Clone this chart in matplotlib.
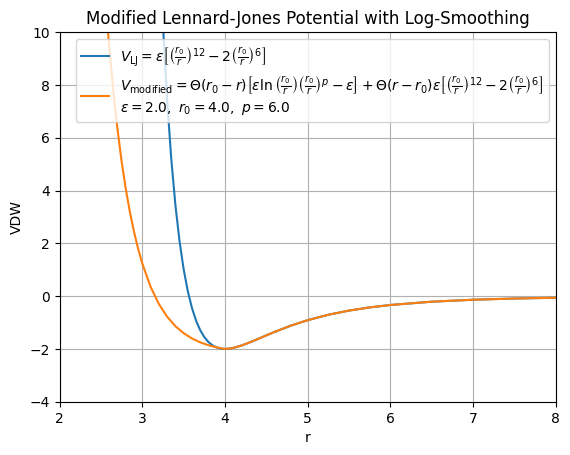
import matplotlib
matplotlib.use("Agg")
import matplotlib.pyplot as plt

# parameters shown in the legend
eps = 2.0
r0 = 4.0
p = 6.0

# standard Lennard-Jones curve
r_lj = [3.2, 3.25, 3.3, 3.35, 3.4, 3.45, 3.5, 3.55, 3.6, 3.65, 3.7, 3.75, 3.8, 3.85, 3.9, 3.95,
        4.0, 4.05, 4.1, 4.2, 4.3, 4.4, 4.5, 4.6, 4.8, 5.0, 5.25, 5.5, 5.75, 6.0, 6.5, 7.0, 7.5, 8.0]
v_lj = [13.85, 10.26, 7.43, 5.204, 3.455, 2.085, 1.017, 0.190, -0.445, -0.928, -1.289, -1.553, -1.740, -1.867, -1.946, -1.988,
        -2.0, -1.990, -1.962, -1.871, -1.752, -1.621, -1.486, -1.356, -1.115, -0.911, -0.706, -0.548, -0.428, -0.336, -0.211, -0.137, -0.091, -0.062]

# log-smoothed curve, inside r0
r_mod_in = [2.5, 2.55, 2.6, 2.65, 2.7, 2.75, 2.8, 2.85, 2.9, 2.95, 3.0, 3.1, 3.2, 3.3, 3.4, 3.5, 3.6, 3.7, 3.8, 3.9, 3.95]
v_mod_in = [13.77, 11.41, 9.423, 7.740, 6.311, 5.097, 4.063, 3.182, 2.429, 1.784, 1.233, 0.353, -0.298, -0.780, -1.138, -1.405, -1.603, -1.751, -1.860, -1.941, -1.973]

# outside r0 it follows the LJ curve
r_mod = r_mod_in + [r for r in r_lj if r >= r0]
v_mod = v_mod_in + [v for r, v in zip(r_lj, v_lj) if r >= r0]

lj_label = r"$V_{\mathrm{LJ}} = \epsilon\left[\left(\frac{r_0}{r}\right)^{12} - 2\left(\frac{r_0}{r}\right)^{6}\right]$"
mod_label = (r"$V_{\mathrm{modified}} = \Theta(r_0 - r)\left[\epsilon\ln\left(\frac{r_0}{r}\right)\left(\frac{r_0}{r}\right)^{p} - \epsilon\right]"
             r" + \Theta(r - r_0)\epsilon\left[\left(\frac{r_0}{r}\right)^{12} - 2\left(\frac{r_0}{r}\right)^{6}\right]$"
             "\n" + rf"$\epsilon = {eps},\ r_0 = {r0},\ p = {p}$")

fig, ax = plt.subplots(figsize=(6.4, 4.8))
ax.plot(r_lj, v_lj, label=lj_label)
ax.plot(r_mod, v_mod, label=mod_label)
ax.set_xlim(2, 8)
ax.set_ylim(-4, 10)
ax.set_xlabel("r")
ax.set_ylabel("VDW")
ax.set_title("Modified Lennard-Jones Potential with Log-Smoothing")
ax.legend(loc="upper right")
ax.grid(True)

fig.savefig("out.png", dpi=100, bbox_inches="tight")
